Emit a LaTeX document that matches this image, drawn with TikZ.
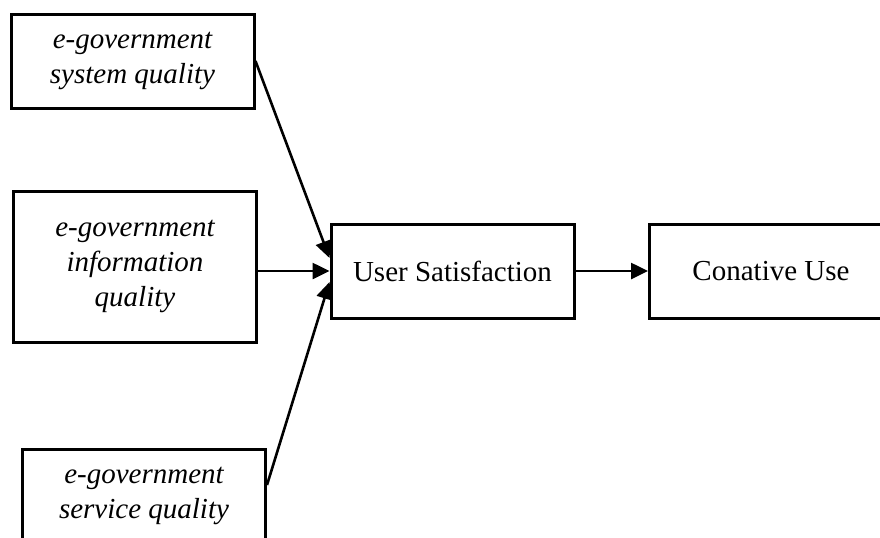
\documentclass[tikz,border=0pt]{standalone}
\usepackage{fontspec}
\setmainfont{Liberation Serif}
\usetikzlibrary{arrows.meta}

\begin{document}
\begin{tikzpicture}[
    x=0.5pt, y=-0.5pt,
    factor/.style={rectangle, minimum width=121.5pt, minimum height=47pt, text centered, align=center, draw=black, line width=1.5pt, font=\fontsize{14.5}{17.5}\selectfont\itshape},
    outcome/.style={rectangle, minimum width=121.5pt, minimum height=47pt, text centered, draw=black, line width=1.5pt, font=\fontsize{14.5}{17.5}\selectfont},
    arrow/.style={line width=1.3pt, -{Triangle[length=8.5pt, width=8pt]}},
]
    \useasboundingbox (0,0) rectangle (880,537);
    \clip (0,0) rectangle (880,537);

    % e-government quality factors
    \node (sysq) [factor] at (132.5,61) {e-government\\system quality};
    \node (infoq) [factor, minimum height=75.5pt] at (135,266.5) {e-government\\information\\quality};
    \node (servq) [factor] at (144,496) {e-government\\service quality};

    % satisfaction and use
    \node (usat) [outcome] at (452.5,271) {User Satisfaction};
    \node (cuse) [outcome] at (771,271) {Conative Use};

    \draw [arrow] (sysq.east) -- ([yshift=6.5pt]usat.west);
    \draw [arrow] (infoq.east |- usat.west) -- (usat.west);
    \draw [arrow] ([yshift=5.5pt]servq.east) -- ([yshift=-5.5pt]usat.west);
    \draw [arrow] (usat) -- (cuse);

\end{tikzpicture}
\end{document}
